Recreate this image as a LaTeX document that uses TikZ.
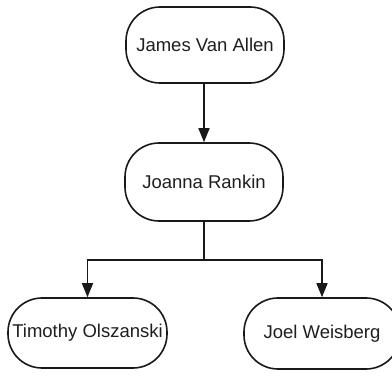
\documentclass[tikz,border=0pt]{standalone}
\usepackage{fontspec}
\setmainfont{Liberation Sans}
\usetikzlibrary{arrows.meta}
\begin{document}
\begin{tikzpicture}[x=1pt,y=-1pt,
  person/.style={draw=black!90, line width=1.6pt, rounded corners=34pt,
    minimum width=158pt, inner sep=0pt, fill=white,
    font=\fontsize{18.5}{22}\selectfont, text=black!88},
  link/.style={draw=black!90, line width=1.6pt,
    -{Triangle[length=14pt,width=11pt]}}]
  % page
  \fill[white] (0,0) rectangle (392,380);
  \useasboundingbox (0,0) rectangle (392,380);

  % people
  \node[person, minimum height=76pt] (allen) at (205,45) {James Van Allen};
  \node[person, minimum height=78pt] (rankin) at (204,182) {Joanna Rankin};
  \node[person, minimum height=70pt, minimum width=159pt] (olszanski) at (87.5,333) {Timothy Olszanski};
  \node[person, minimum height=71pt, minimum width=156pt] (weisberg) at (322,333.5) {Joel Weisberg};

  % branch point under Rankin
  \coordinate (split) at (204,260);

  % connectors
  \draw[link] (allen.south -| rankin.north) -- (rankin.north);
  \draw[draw=black!90, line width=1.6pt] (rankin.south) -- (split);
  \draw[link] (split) -| (olszanski.north);
  \draw[link] (split) -| (weisberg.north);
\end{tikzpicture}
\end{document}
